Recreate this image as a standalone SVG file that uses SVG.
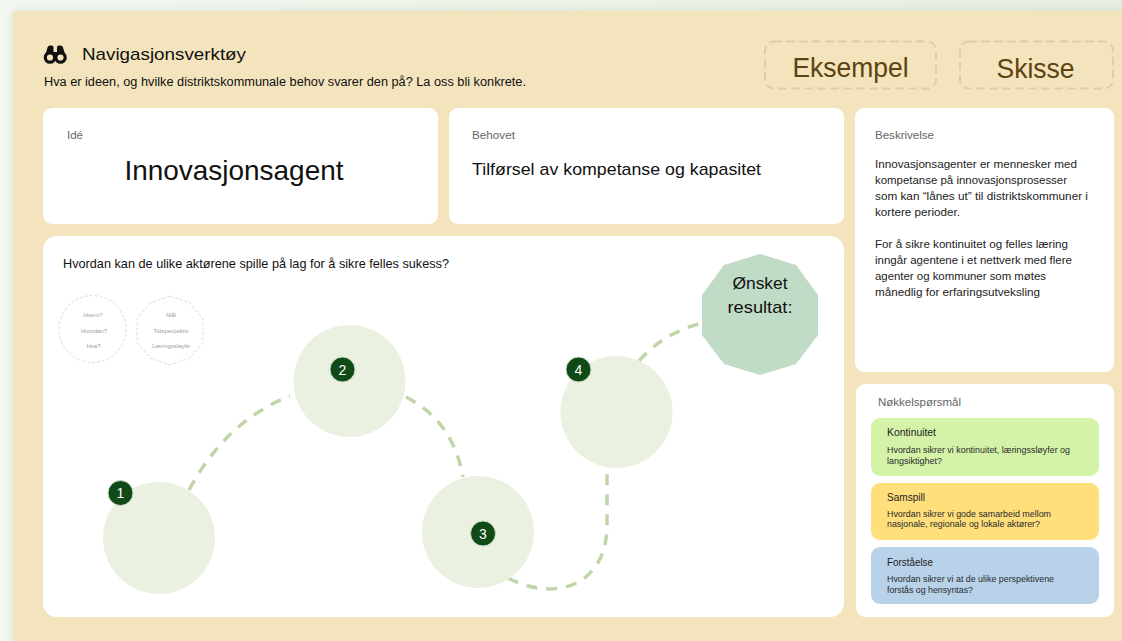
<svg xmlns="http://www.w3.org/2000/svg" width="1122" height="641" viewBox="0 0 1122 641">
<defs>
<linearGradient id="pg" x1="0" y1="0" x2="1" y2="0"><stop offset="0" stop-color="#f2f8f0"/><stop offset="1" stop-color="#e6eee2"/></linearGradient>
<filter id="sh" x="-5%" y="-5%" width="110%" height="110%"><feGaussianBlur stdDeviation="5"/></filter>
</defs>
<style>
text{font-family:"Liberation Sans",Arial,sans-serif;fill:#111}
.card{fill:#fff}
.lbl{font-size:11px;fill:#666}
.body{font-size:11.3px;fill:#222}
.big{font-size:27px;fill:#5c4310;text-anchor:middle}
.dash{fill:none;stroke:#dccfa6;stroke-width:2;stroke-dasharray:7 6;stroke-linecap:round}
.step{fill:#eaf1e0}
.badge{fill:#0f4a17;stroke:#cfe0c8;stroke-width:1}
.num{font-size:14px;fill:#fff;text-anchor:middle}
.conn{fill:none;stroke:#c0d5a8;stroke-width:3.5;stroke-dasharray:11 9}
.hint{fill:none;stroke:#dcdcdc;stroke-width:1;stroke-dasharray:3 2}
.tiny{font-size:6px;fill:#a0a0a0;text-anchor:middle}
.kh{font-size:10.5px;fill:#1c1c1c}
.kb{font-size:8.6px;fill:#2a2a2a}
</style>
<rect width="1122" height="641" fill="url(#pg)"/>
<rect x="13" y="11" width="1120" height="640" fill="#a9b8a0" opacity=".35" filter="url(#sh)"/>
<rect x="13" y="11" width="1109" height="630" fill="#f3e4bd"/>

<g id="header">
<g id="binoculars" fill="#111">
<circle cx="50" cy="57.500" r="4.700" fill="#f3e4bd" stroke="#111" stroke-width="3.200"/>
<circle cx="60.500" cy="57.500" r="4.700" fill="#f3e4bd" stroke="#111" stroke-width="3.200"/>
<path d="M45 56 L47.500 47.500 Q48 45.500 50 45.500 L51.500 45.500 Q53.500 45.500 53.500 47.500 L53.500 52 L57 52 L57 47.500 Q57 45.500 59 45.500 L60.500 45.500 Q62.500 45.500 63 47.500 L65.500 56 L61 52.500 L55 56 L49.500 52.500 Z"/>
</g>
<text x="82" y="60" font-size="17" textLength="164" lengthAdjust="spacingAndGlyphs">Navigasjonsverktøy</text>
<text x="44" y="86" font-size="12" textLength="482" lengthAdjust="spacingAndGlyphs">Hva er ideen, og hvilke distriktskommunale behov svarer den på? La oss bli konkrete.</text>
</g>

<g id="btn-eksempel">
<rect x="765" y="41.500" width="171" height="47" rx="9" class="dash"/>
<text x="850.500" y="77" class="big" textLength="116" lengthAdjust="spacingAndGlyphs">Eksempel</text>
</g>
<g id="btn-skisse">
<rect x="960" y="41.500" width="153" height="47" rx="9" class="dash"/>
<text x="1035.500" y="78" class="big" textLength="78" lengthAdjust="spacingAndGlyphs">Skisse</text>
</g>

<g id="card-ide">
<rect x="43" y="108" width="395" height="116" rx="9" class="card"/>
<text x="67" y="139" class="lbl" textLength="16" lengthAdjust="spacingAndGlyphs">Idé</text>
<text x="234" y="180" font-size="28" text-anchor="middle" textLength="219" lengthAdjust="spacingAndGlyphs">Innovasjonsagent</text>
</g>
<g id="card-behovet">
<rect x="449" y="108" width="395" height="116" rx="9" class="card"/>
<text x="472" y="139" class="lbl" textLength="43" lengthAdjust="spacingAndGlyphs">Behovet</text>
<text x="472" y="175" font-size="17" textLength="289" lengthAdjust="spacingAndGlyphs">Tilførsel av kompetanse og kapasitet</text>
</g>
<g id="card-beskrivelse">
<rect x="855" y="108" width="259" height="264" rx="9" class="card"/>
<text x="875" y="139" class="lbl" textLength="59" lengthAdjust="spacingAndGlyphs">Beskrivelse</text>
<text x="875" y="168" class="body" textLength="202" lengthAdjust="spacingAndGlyphs">Innovasjonsagenter er mennesker med</text>
<text x="875" y="184" class="body" textLength="192" lengthAdjust="spacingAndGlyphs">kompetanse på innovasjonsprosesser</text>
<text x="875" y="200" class="body" textLength="213" lengthAdjust="spacingAndGlyphs">som kan “lånes ut” til distriktskommuner i</text>
<text x="875" y="216" class="body" textLength="85" lengthAdjust="spacingAndGlyphs">kortere perioder.</text>
<text x="875" y="248" class="body" textLength="193" lengthAdjust="spacingAndGlyphs">For å sikre kontinuitet og felles læring</text>
<text x="875" y="264" class="body" textLength="197" lengthAdjust="spacingAndGlyphs">inngår agentene i et nettverk med flere</text>
<text x="875" y="280" class="body" textLength="171" lengthAdjust="spacingAndGlyphs">agenter og kommuner som møtes</text>
<text x="875" y="296" class="body" textLength="165" lengthAdjust="spacingAndGlyphs">månedlig for erfaringsutveksling</text>
</g>
<g id="card-main">
<rect x="43" y="236" width="801" height="381" rx="14" class="card"/>
<text x="63" y="268" font-size="13" textLength="386" lengthAdjust="spacingAndGlyphs">Hvordan kan de ulike aktørene spille på lag for å sikre felles sukess?</text>
</g>

<g id="hint-circle">
<circle cx="92.500" cy="329" r="33.500" class="hint"/>
<text x="93" y="317" class="tiny">Hvem?</text>
<text x="94" y="333" class="tiny">Hvordan?</text>
<text x="93.500" y="348" class="tiny">Hva?</text>
</g>
<g id="hint-polygon">
<polygon points="170,296 190,303 203,319 203,342 190,358 170,365 150,358 137,342 137,319 150,303" class="hint"/>
<text x="171" y="317" class="tiny">Mål</text>
<text x="171" y="333" class="tiny">Tidsperpektiv</text>
<text x="171" y="348" class="tiny">Læringssløyfe</text>
</g>

<g id="connectors">
<path d="M189 490 Q226 421 290 396" class="conn"/>
<path d="M406 397 Q453 421 463 477" class="conn"/>
<path d="M508 578 C556 603 607 585 607 525 L607 467" class="conn"/>
<path d="M639 361 Q663 333 702 323" class="conn"/>
</g>

<g id="step-1"><circle cx="159" cy="538" r="56" class="step"/><circle cx="120.500" cy="493" r="12.500" class="badge"/><text x="120.500" y="498" class="num">1</text></g>
<g id="step-2"><circle cx="349.500" cy="381" r="56" class="step"/><circle cx="342.500" cy="369.500" r="12.500" class="badge"/><text x="342.500" y="374.500" class="num">2</text></g>
<g id="step-3"><circle cx="478" cy="532" r="56" class="step"/><circle cx="483" cy="533.500" r="12.500" class="badge"/><text x="483" y="538.500" class="num">3</text></g>
<g id="step-4"><circle cx="616.500" cy="412" r="56" class="step"/><circle cx="578.500" cy="369.500" r="12.500" class="badge"/><text x="578.500" y="374.500" class="num">4</text></g>

<g id="result">
<polygon points="760,254 796,265 818,295 818,335 796,364 760,375 724,364 702,335 702,295 724,265" fill="#c1dcc6"/>
<text x="760" y="289" font-size="17" text-anchor="middle" textLength="55" lengthAdjust="spacingAndGlyphs">Ønsket</text>
<text x="760" y="313" font-size="17" text-anchor="middle" textLength="65" lengthAdjust="spacingAndGlyphs">resultat:</text>
</g>

<g id="card-nokkel">
<rect x="856" y="384" width="258" height="233" rx="9" class="card"/>
<text x="878" y="406" class="lbl" textLength="83" lengthAdjust="spacingAndGlyphs">Nøkkelspørsmål</text>
</g>
<g id="q-kontinuitet">
<rect x="871" y="418" width="228" height="58" rx="9" fill="#d4f3a9"/>
<text x="887" y="436" class="kh" textLength="49" lengthAdjust="spacingAndGlyphs">Kontinuitet</text>
<text x="887" y="453" class="kb" textLength="183" lengthAdjust="spacingAndGlyphs">Hvordan sikrer vi kontinuitet, læringssløyfer og</text>
<text x="887" y="464" class="kb" textLength="55" lengthAdjust="spacingAndGlyphs">langsiktighet?</text>
</g>
<g id="q-samspill">
<rect x="871" y="483" width="228" height="57" rx="9" fill="#ffdf7c"/>
<text x="887" y="501" class="kh" textLength="38" lengthAdjust="spacingAndGlyphs">Samspill</text>
<text x="887" y="517" class="kb" textLength="164" lengthAdjust="spacingAndGlyphs">Hvordan sikrer vi gode samarbeid mellom</text>
<text x="887" y="527" class="kb" textLength="153" lengthAdjust="spacingAndGlyphs">nasjonale, regionale og lokale aktører?</text>
</g>
<g id="q-forstaelse">
<rect x="871" y="547" width="228" height="57" rx="9" fill="#b8d2ea"/>
<text x="887" y="566" class="kh" textLength="46" lengthAdjust="spacingAndGlyphs">Forståelse</text>
<text x="887" y="582" class="kb" textLength="167" lengthAdjust="spacingAndGlyphs">Hvordan sikrer vi at de ulike perspektivene</text>
<text x="887" y="593" class="kb" textLength="86" lengthAdjust="spacingAndGlyphs">forstås og hensyntas?</text>
</g>
</svg>
